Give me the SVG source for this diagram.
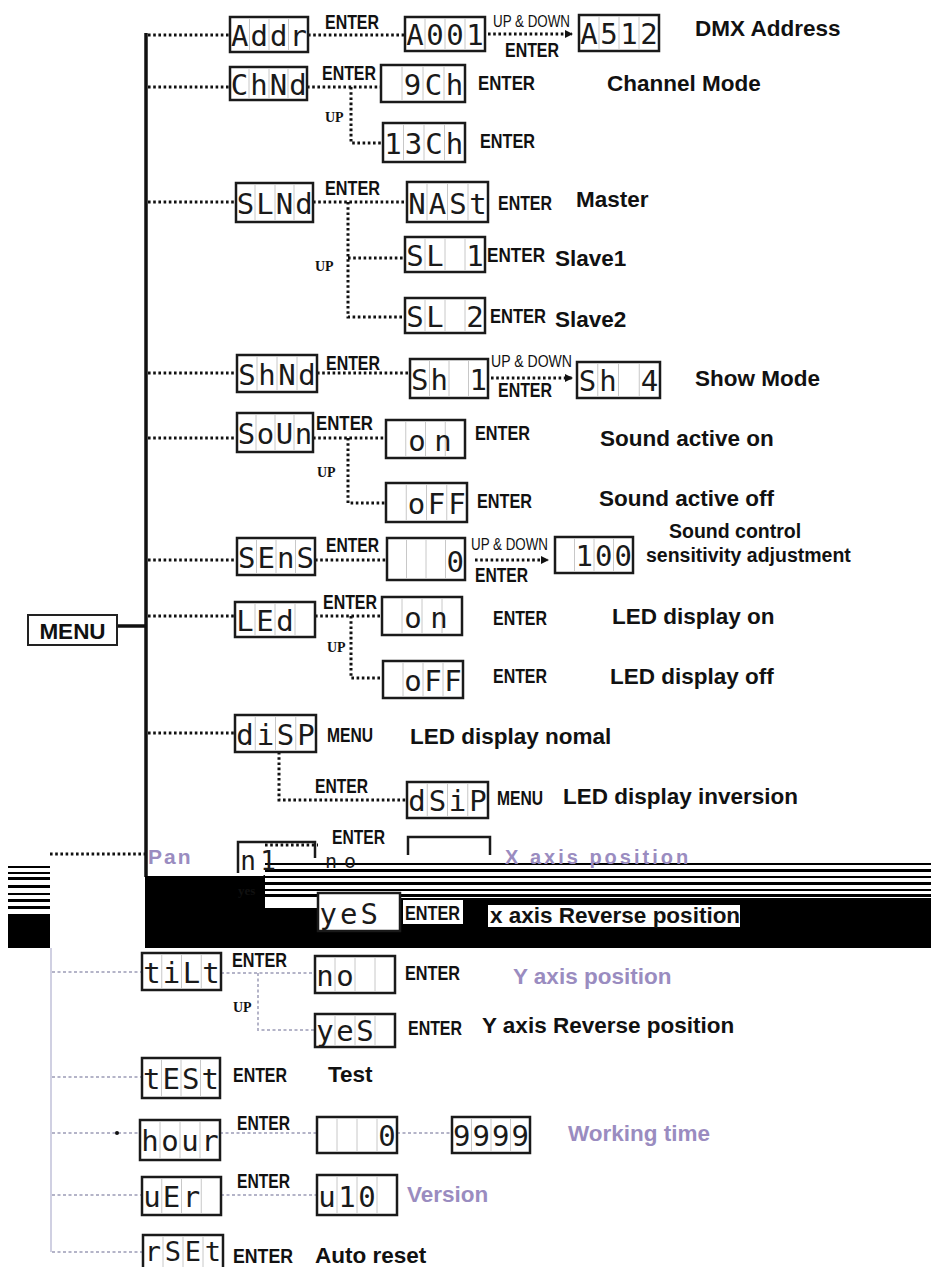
<svg xmlns="http://www.w3.org/2000/svg" width="931" height="1267" viewBox="0 0 931 1267">
<style>
.bx{fill:#fff;stroke:#1a1a1a;stroke-width:2.5}
.dv{stroke:#c8c8c8;stroke-width:1}
.seg{font-family:"DejaVu Sans Mono","Liberation Mono",monospace;font-size:29px;fill:#1a1a1a;text-anchor:middle}
.dot{fill:none;stroke:#111;stroke-width:3;stroke-dasharray:2.6 2.6}
.fdot{fill:none;stroke:#b4b4c8;stroke-width:2;stroke-dasharray:3 2.5}
.ent{font-family:"Liberation Sans",Arial,sans-serif;font-weight:bold;font-size:19.5px;fill:#111}
.ud{font-family:"Liberation Sans",Arial,sans-serif;font-size:16px;fill:#111}
.up{font-family:"Liberation Serif","Times New Roman",serif;font-weight:bold;font-size:14px;fill:#111}
.ds{font-family:"Liberation Sans",Arial,sans-serif;font-weight:bold;font-size:22.5px;fill:#111}
.sm{font-size:19.5px}
.pu{fill:#9a8cc0}
</style>
<defs>
<marker id="ah" markerWidth="8" markerHeight="8" refX="7" refY="4" orient="auto" markerUnits="userSpaceOnUse">
<path d="M0,0 L8,4 L0,8 z" fill="#111"/>
</marker>
</defs>

<g id="connectors">
<line x1="146" y1="33" x2="146" y2="877" stroke="#111" stroke-width="3.5"/>
<line x1="117" y1="626" x2="146" y2="626" stroke="#111" stroke-width="3.5"/>
<path class="dot" d="M148,35H230 M308,35H405"/>
<path class="dot" d="M488,34H572" marker-end="url(#ah)"/>
<path class="dot" d="M148,87H230 M307,87H381 M351,87V143H383"/>
<path class="dot" d="M148,202H236 M313,202H407 M348,202V317H405 M348,258H405"/>
<path class="dot" d="M148,373H237 M317,373H410"/>
<path class="dot" d="M491,378H572" marker-end="url(#ah)"/>
<path class="dot" d="M148,438H237 M313,438H386 M348,438V503H386"/>
<path class="dot" d="M148,560H237 M315,560H387"/>
<path class="dot" d="M475,560H548" marker-end="url(#ah)"/>
<path class="dot" d="M148,616H235 M315,616H382 M351,616V678H383"/>
<path class="dot" d="M148,733H235 M279,752V800H407"/>
<path class="dot" d="M50,854H145 M265,845H318"/>
<path class="dot" d="M265,875V905H318"/>
<line x1="51" y1="948" x2="51" y2="1252" stroke="#c0c0d8" stroke-width="1.5"/>
<path class="fdot" d="M52,972H142 M221,973H315 M258,973V1030H315"/>
<path class="fdot" d="M52,1077H142"/>
<path class="fdot" d="M52,1133H140 M220,1133H317 M397,1133H452"/>
<path class="fdot" d="M52,1195H142 M221,1195H317"/>
<path class="fdot" d="M52,1252H143"/>
<circle cx="117" cy="1133" r="2" fill="#111"/>
</g>

<g id="menu">
<rect x="28" y="615" width="89" height="30" fill="#fff" stroke="#222" stroke-width="2"/>
<text x="72.5" y="639" class="ds" text-anchor="middle">MENU</text>
</g>

<g id="addr">
<rect class="bx" x="230" y="17" width="78" height="35"/>
<path class="dv" d="M249.5,19V50M269,19V50M288.5,19V50"/>
<text class="seg" x="239.75 259.25 278.75 298.25" y="46">Addr</text>
</g>
<g id="a001">
<rect class="bx" x="405" y="17" width="80" height="34"/>
<path class="dv" d="M425,19V49M445,19V49M465,19V49"/>
<text class="seg" x="415 435 455 475" y="45">A001</text>
</g>
<g id="a512">
<rect class="bx" x="579" y="15" width="80" height="36"/>
<path class="dv" d="M599,17V49M619,17V49M639,17V49"/>
<text class="seg" x="589 609 629 649" y="44">A512</text>
</g>

<g id="chnd">
<rect class="bx" x="230" y="67" width="77" height="33"/>
<path class="dv" d="M249,69V98M269,69V98M288,69V98"/>
<text class="seg" x="239.5 259 278.5 298" y="95">ChNd</text>
</g>
<g id="ch9">
<rect class="bx" x="381" y="65" width="84" height="37"/>
<path class="dv" d="M402,67V100M423,67V100M444,67V100"/>
<text class="seg" x="412.5 433.5 454.5" y="95">9Ch</text>
</g>
<g id="ch13">
<rect class="bx" x="383" y="123" width="82" height="39"/>
<path class="dv" d="M403.5,125V160M424,125V160M444.5,125V160"/>
<text class="seg" x="393 413.5 434 454.5" y="154">13Ch</text>
</g>

<g id="slnd">
<rect class="bx" x="236" y="183" width="77" height="39"/>
<path class="dv" d="M255,185V220M275,185V220M294,185V220"/>
<text class="seg" x="245.5 265 284.5 304" y="214">SLNd</text>
</g>
<g id="nast">
<rect class="bx" x="407" y="182" width="81" height="40"/>
<path class="dv" d="M427,184V220M447.5,184V220M468,184V220"/>
<text class="seg" x="417 437.5 458 478" y="214">NASt</text>
</g>
<g id="sl1">
<rect class="bx" x="405" y="237" width="80" height="35"/>
<path class="dv" d="M425,239V270M445,239V270M465,239V270"/>
<text class="seg" x="415 435 475" y="266">SL1</text>
</g>
<g id="sl2">
<rect class="bx" x="405" y="298" width="80" height="35"/>
<path class="dv" d="M425,300V331M445,300V331M465,300V331"/>
<text class="seg" x="415 435 475" y="327">SL2</text>
</g>

<g id="shnd">
<rect class="bx" x="237" y="355" width="80" height="37"/>
<path class="dv" d="M257,357V390M277,357V390M297,357V390"/>
<text class="seg" x="247 267 287 307" y="385">ShNd</text>
</g>
<g id="sh1">
<rect class="bx" x="410" y="359" width="78" height="39"/>
<path class="dv" d="M429.5,361V396M449,361V396M468.5,361V396"/>
<text class="seg" x="419.75 439.25 478.25" y="390">Sh1</text>
</g>
<g id="sh4">
<rect class="bx" x="577" y="362" width="83" height="36"/>
<path class="dv" d="M597.75,364V396M618.5,364V396M639.25,364V396"/>
<text class="seg" x="587.4 608.1 649.6" y="391">Sh4</text>
</g>

<g id="soun">
<rect class="bx" x="237" y="413" width="76" height="39"/>
<path class="dv" d="M256,415V450M275,415V450M294,415V450"/>
<text class="seg" x="246.5 265.5 284.5 303.5" y="444">SoUn</text>
</g>
<g id="son">
<rect class="bx" x="386" y="420" width="79" height="38"/>
<path class="dv" d="M405.75,422V456M425.5,422V456M445.25,422V456"/>
<text class="seg" x="417 443" y="451">on</text>
</g>
<g id="soff">
<rect class="bx" x="386" y="483" width="81" height="39"/>
<path class="dv" d="M406.25,485V520M426.5,485V520M446.75,485V520"/>
<text class="seg" x="416.4 436.6 456.9" y="514">oFF</text>
</g>

<g id="sens">
<rect class="bx" x="237" y="538" width="78" height="37"/>
<path class="dv" d="M256.5,540V573M276,540V573M295.5,540V573"/>
<text class="seg" x="246.75 266.25 285.75 305.25" y="568">SEnS</text>
</g>
<g id="s0">
<rect class="bx" x="387" y="538" width="78" height="42"/>
<path class="dv" d="M406.5,540V578M426,540V578M445.5,540V578"/>
<text class="seg" x="455.25" y="572">0</text>
</g>
<g id="s100">
<rect class="bx" x="555" y="537" width="78" height="36"/>
<path class="dv" d="M574.5,539V571M594,539V571M613.5,539V571"/>
<text class="seg" x="584.25 603.75 623.25" y="566">100</text>
</g>

<g id="led">
<rect class="bx" x="235" y="602" width="80" height="35"/>
<path class="dv" d="M255,604V635M275,604V635M295,604V635"/>
<text class="seg" x="245 265 285" y="631">LEd</text>
</g>
<g id="lon">
<rect class="bx" x="382" y="597" width="80" height="38"/>
<path class="dv" d="M402,599V633M422,599V633M442,599V633"/>
<text class="seg" x="413 439" y="628">on</text>
</g>
<g id="loff">
<rect class="bx" x="383" y="661" width="80" height="37"/>
<path class="dv" d="M403,663V696M423,663V696M443,663V696"/>
<text class="seg" x="413 433 453" y="691">oFF</text>
</g>

<g id="disp">
<rect class="bx" x="235" y="715" width="81" height="37"/>
<path class="dv" d="M255.25,717V750M275.5,717V750M295.75,717V750"/>
<text class="seg" x="245.1 265.4 285.6 305.9" y="745">diSP</text>
</g>
<g id="dsip">
<rect class="bx" x="407" y="782" width="81" height="36"/>
<path class="dv" d="M427.25,784V816M447.5,784V816M467.75,784V816"/>
<text class="seg" x="417.1 437.4 457.6 477.9" y="811">dSiP</text>
</g>

<g id="glitch">
<rect x="8" y="866" width="42" height="2" fill="#000"/>
<rect x="8" y="872" width="42" height="2" fill="#000"/>
<rect x="8" y="877" width="42" height="3" fill="#000"/>
<rect x="8" y="885" width="42" height="3" fill="#000"/>
<rect x="8" y="893" width="42" height="2" fill="#000"/>
<rect x="8" y="899" width="42" height="3" fill="#000"/>
<rect x="8" y="906" width="42" height="3" fill="#000"/>
<rect x="8" y="914" width="42" height="34" fill="#000"/>
<rect x="145" y="876" width="786" height="72" fill="#000"/>
<rect x="265" y="858" width="666" height="40" fill="#fff"/>
<rect x="265" y="863" width="666" height="2" fill="#000"/>
<rect x="265" y="869" width="666" height="3" fill="#000"/>
<rect x="265" y="876" width="666" height="2" fill="#000"/>
<rect x="265" y="882" width="666" height="3" fill="#000"/>
<rect x="265" y="889" width="666" height="2" fill="#000"/>
<rect x="265" y="894" width="666" height="3" fill="#000"/>
<rect x="265" y="898" width="55" height="10" fill="#fff"/>
<rect x="403" y="900" width="60" height="24" fill="#fff"/>
<rect x="488" y="905" width="252" height="22" fill="#fff"/>
<text class="ds pu" x="148" y="864" style="font-size:21px;letter-spacing:2px">Pan</text>
<text class="up" x="238" y="895" style="font-size:13px">yes</text>
</g>
<g id="pan">
<path d="M238,873V842H315V858" fill="none" stroke="#1a1a1a" stroke-width="2.5"/>
<text class="seg" x="248 268" y="870" style="font-size:26px">n1</text>
</g>
<g id="panno">
<path d="M408,855V837H490V855" fill="none" stroke="#1a1a1a" stroke-width="2.5"/>
<text class="seg" x="331 350" y="868" style="font-size:20px">no</text>
<text class="ds pu" x="505" y="864" style="font-size:20px;letter-spacing:3px">X axis position</text>
</g>
<g id="panyes">
<rect class="bx" x="318" y="893" width="82" height="38"/>
<text class="seg" x="328.25 348.75 369.25" y="924">yeS</text>
<text class="ds" x="490" y="923">x axis Reverse position</text>
</g>

<g id="tilt">
<rect class="bx" x="142" y="953" width="79" height="37"/>
<path class="dv" d="M161.75,955V988M181.5,955V988M201.25,955V988"/>
<text class="seg" x="151.9 171.6 191.4 211.1" y="983">tiLt</text>
</g>
<g id="tno">
<rect class="bx" x="315" y="956" width="80" height="37"/>
<path class="dv" d="M335,958V991M355,958V991M375,958V991"/>
<text class="seg" x="325 345" y="986">no</text>
</g>
<g id="tyes">
<rect class="bx" x="315" y="1014" width="80" height="33"/>
<path class="dv" d="M335,1016V1045M355,1016V1045M375,1016V1045"/>
<text class="seg" x="325 345 365" y="1041">yeS</text>
</g>
<g id="test">
<rect class="bx" x="142" y="1058" width="78" height="40"/>
<path class="dv" d="M161.5,1060V1096M181,1060V1096M200.5,1060V1096"/>
<text class="seg" x="151.75 171.25 190.75 210.25" y="1089">tESt</text>
</g>
<g id="hour">
<rect class="bx" x="140" y="1120" width="80" height="40"/>
<path class="dv" d="M160,1122V1158M180,1122V1158M200,1122V1158"/>
<text class="seg" x="150 170 190 210" y="1151">hour</text>
</g>
<g id="h0">
<rect class="bx" x="317" y="1117" width="80" height="36"/>
<path class="dv" d="M337,1119V1151M357,1119V1151M377,1119V1151"/>
<text class="seg" x="387" y="1146">0</text>
</g>
<g id="h9999">
<rect class="bx" x="452" y="1117" width="78" height="36"/>
<path class="dv" d="M471.5,1119V1151M491,1119V1151M510.5,1119V1151"/>
<text class="seg" x="461.75 481.25 500.75 520.25" y="1146">9999</text>
</g>
<g id="ver">
<rect class="bx" x="142" y="1177" width="79" height="38"/>
<path class="dv" d="M161.75,1179V1213M181.5,1179V1213M201.25,1179V1213"/>
<text class="seg" x="151.9 171.6 191.4" y="1207">uEr</text>
</g>
<g id="v10">
<rect class="bx" x="317" y="1175" width="80" height="40"/>
<path class="dv" d="M337,1177V1213M357,1177V1213M377,1177V1213"/>
<text class="seg" x="327 347 367" y="1207">u10</text>
</g>
<g id="rset">
<rect class="bx" x="143" y="1235" width="80" height="40"/>
<path class="dv" d="M163,1237V1267M183,1237V1267M203,1237V1267"/>
<text class="seg" x="153 173 193 213" y="1261" style="font-size:27px">rSEt</text>
</g>

<g id="labels">
<text class="ent" x="325" y="29" textLength="54" lengthAdjust="spacingAndGlyphs">ENTER</text>
<text class="ud" x="493" y="27" textLength="77" lengthAdjust="spacingAndGlyphs">UP &amp; DOWN</text>
<text class="ent" x="505" y="57" textLength="54" lengthAdjust="spacingAndGlyphs">ENTER</text>
<text class="ent" x="322" y="80" textLength="54" lengthAdjust="spacingAndGlyphs">ENTER</text>
<text class="ent" x="478" y="90" textLength="57" lengthAdjust="spacingAndGlyphs">ENTER</text>
<text class="ent" x="480" y="148" textLength="55" lengthAdjust="spacingAndGlyphs">ENTER</text>
<text class="up" x="325" y="122">UP</text>
<text class="ent" x="325" y="195" textLength="55" lengthAdjust="spacingAndGlyphs">ENTER</text>
<text class="ent" x="498" y="210" textLength="54" lengthAdjust="spacingAndGlyphs">ENTER</text>
<text class="ent" x="487" y="262" textLength="58" lengthAdjust="spacingAndGlyphs">ENTER</text>
<text class="ent" x="490" y="323" textLength="56" lengthAdjust="spacingAndGlyphs">ENTER</text>
<text class="up" x="315" y="271">UP</text>
<text class="ent" x="326" y="370" textLength="54" lengthAdjust="spacingAndGlyphs">ENTER</text>
<text class="ud" x="491" y="367" textLength="81" lengthAdjust="spacingAndGlyphs">UP &amp; DOWN</text>
<text class="ent" x="498" y="397" textLength="54" lengthAdjust="spacingAndGlyphs">ENTER</text>
<text class="ent" x="316" y="430" textLength="57" lengthAdjust="spacingAndGlyphs">ENTER</text>
<text class="ent" x="475" y="440" textLength="55" lengthAdjust="spacingAndGlyphs">ENTER</text>
<text class="ent" x="477" y="508" textLength="55" lengthAdjust="spacingAndGlyphs">ENTER</text>
<text class="up" x="317" y="477">UP</text>
<text class="ent" x="326" y="552" textLength="53" lengthAdjust="spacingAndGlyphs">ENTER</text>
<text class="ud" x="471" y="550" textLength="77" lengthAdjust="spacingAndGlyphs">UP &amp; DOWN</text>
<text class="ent" x="475" y="582" textLength="53" lengthAdjust="spacingAndGlyphs">ENTER</text>
<text class="ent" x="323" y="609" textLength="54" lengthAdjust="spacingAndGlyphs">ENTER</text>
<text class="ent" x="493" y="625" textLength="54" lengthAdjust="spacingAndGlyphs">ENTER</text>
<text class="ent" x="493" y="683" textLength="54" lengthAdjust="spacingAndGlyphs">ENTER</text>
<text class="up" x="327" y="652">UP</text>
<text class="ent" x="327" y="742" textLength="46" lengthAdjust="spacingAndGlyphs">MENU</text>
<text class="ent" x="315" y="793" textLength="53" lengthAdjust="spacingAndGlyphs">ENTER</text>
<text class="ent" x="497" y="805" textLength="46" lengthAdjust="spacingAndGlyphs">MENU</text>
<text class="ent" x="332" y="844" textLength="53" lengthAdjust="spacingAndGlyphs">ENTER</text>
<text class="ent" x="405" y="920" textLength="55" lengthAdjust="spacingAndGlyphs">ENTER</text>
<text class="ent" x="232" y="967" textLength="55" lengthAdjust="spacingAndGlyphs">ENTER</text>
<text class="ent" x="405" y="980" textLength="55" lengthAdjust="spacingAndGlyphs">ENTER</text>
<text class="ent" x="408" y="1035" textLength="54" lengthAdjust="spacingAndGlyphs">ENTER</text>
<text class="up" x="233" y="1012">UP</text>
<text class="ent" x="233" y="1082" textLength="54" lengthAdjust="spacingAndGlyphs">ENTER</text>
<text class="ent" x="237" y="1130" textLength="53" lengthAdjust="spacingAndGlyphs">ENTER</text>
<text class="ent" x="237" y="1188" textLength="53" lengthAdjust="spacingAndGlyphs">ENTER</text>
<text class="ent" x="233" y="1263" textLength="60" lengthAdjust="spacingAndGlyphs">ENTER</text>

<text class="ds" x="695" y="36">DMX Address</text>
<text class="ds" x="607" y="91">Channel Mode</text>
<text class="ds" x="576" y="207">Master</text>
<text class="ds" x="555" y="266">Slave1</text>
<text class="ds" x="555" y="327">Slave2</text>
<text class="ds" x="695" y="386">Show Mode</text>
<text class="ds" x="600" y="446">Sound active on</text>
<text class="ds" x="599" y="506">Sound active off</text>
<text class="ds sm" x="669" y="538">Sound control</text>
<text class="ds sm" x="646" y="562">sensitivity adjustment</text>
<text class="ds" x="612" y="624">LED display on</text>
<text class="ds" x="610" y="684">LED display off</text>
<text class="ds" x="410" y="744">LED display nomal</text>
<text class="ds" x="563" y="804">LED display inversion</text>
<text class="ds pu" x="513" y="984">Y axis  position</text>
<text class="ds" x="482" y="1033">Y axis Reverse position</text>
<text class="ds" x="328" y="1082">Test</text>
<text class="ds pu" x="568" y="1141">Working time</text>
<text class="ds pu" x="407" y="1202">Version</text>
<text class="ds" x="315" y="1263">Auto reset</text>
</g>
</svg>
